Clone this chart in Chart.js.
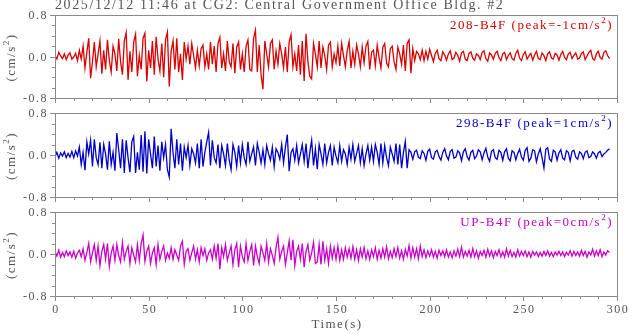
<!DOCTYPE html>
<html>
<head>
<meta charset="utf-8">
<script src="https://cdn.jsdelivr.net/npm/chart.js@4.4.0/dist/chart.umd.min.js"></script>
<style>
  body { margin: 0; background: #fff; }
  #wrap { position: relative; width: 629px; height: 334px; overflow: hidden; }
  canvas { position: absolute; left: 0; }
</style>
</head>
<body>
<div id="wrap">
  <canvas id="p1" width="629" height="112" style="top:0px"></canvas>
  <canvas id="p2" width="629" height="112" style="top:100px"></canvas>
  <canvas id="p3" width="629" height="136" style="top:198px"></canvas>
</div>
<script>
var titleText = "2025/12/12 11:46 at CG2: Central Government Office Bldg. #2";
var channelNames = ["208-B4F", "298-B4F", "UP-B4F"];
var peakValues = ["-1", "1", "0"];
var sampleStep = 1; // seconds between samples
var xTickLabels = [0, 50, 100, 150, 200, 250, 300];
var yTickLabels = [-0.8, 0.0, 0.8];

// acceleration (cm/s^2), one value per second
var ch208 = [
  0.02, -0.05, 0.08, 0.01, -0.04, 0.05, -0.06, 0.03, 0.07, -0.05,
  -0.01, 0.06, -0.08, 0.12, -0.05, 0.20, -0.22, 0.08, 0.35, -0.42,
  -0.10, 0.28, -0.20, 0.05, 0.30, -0.33, 0.12, -0.25, 0.32, -0.08,
  -0.30, 0.20, 0.05, -0.28, 0.34, -0.10, -0.35, 0.30, 0.46, -0.45,
  0.10, -0.30, 0.28, 0.43, -0.38, 0.02, -0.25, 0.35, 0.45, -0.48,
  0.12, -0.22, 0.30, -0.35, 0.38, -0.05, -0.28, 0.25, -0.40, 0.32,
  0.47, -0.58, 0.10, 0.30, -0.25, 0.35, -0.30, 0.05, -0.45, 0.28,
  -0.05, 0.20, -0.15, 0.25, 0.02, -0.22, 0.12, -0.18, 0.15, 0.22,
  -0.20, 0.05, -0.25, 0.28, -0.15, 0.20, -0.30, 0.25, 0.37, -0.22,
  0.05, -0.28, 0.30, -0.10, -0.20, 0.25, -0.32, 0.18, 0.28, -0.25,
  0.05, -0.30, 0.20, 0.32, -0.25, -0.28, 0.35, 0.51, -0.30, 0.22,
  -0.35, -0.63, 0.30, 0.05, -0.20, 0.25, 0.32, -0.25, 0.10, -0.15,
  0.25, 0.05, -0.22, 0.18, -0.30, 0.28, 0.42, -0.20, 0.05, -0.28,
  0.22, -0.35, 0.30, -0.47, 0.44, -0.10, -0.38, -0.43, 0.25, 0.05,
  -0.20, 0.30, -0.22, 0.18, 0.02, -0.25, 0.22, 0.28, -0.20, 0.05,
  -0.12, 0.20, -0.18, 0.25, 0.02, -0.20, 0.12, 0.29, -0.22, 0.10,
  -0.15, 0.22, 0.05, -0.20, 0.18, -0.12, 0.20, 0.29, -0.25, 0.08,
  0.12, -0.18, 0.22, -0.02, -0.22, 0.18, 0.25, -0.12, -0.20, 0.15,
  0.20, -0.10, -0.25, 0.18, 0.05, -0.15, 0.22, -0.28, 0.25, 0.32,
  -0.32, 0.15, -0.08, 0.10, 0.05, -0.06, 0.12, -0.08, 0.10, -0.05,
  0.14, 0.02, -0.10, 0.06, 0.12, -0.04, -0.08, 0.09, 0.03, -0.07,
  0.05, 0.11, -0.06, -0.03, 0.08, 0.02, -0.09, 0.07, 0.10, -0.05,
  -0.08, 0.06, 0.09, -0.03, -0.07, 0.05, 0.02, -0.06, 0.08, 0.11,
  -0.04, -0.09, 0.07, 0.03, -0.05, 0.06, 0.10, -0.02, -0.08, 0.05,
  0.08, -0.06, 0.02, 0.07, -0.04, -0.07, 0.06, 0.12, -0.03, -0.08,
  0.04, 0.09, -0.05, 0.01, 0.06, -0.07, 0.03, 0.10, -0.04, -0.06,
  0.07, 0.02, -0.08, 0.05, 0.09, -0.03, -0.05, 0.06, 0.03, -0.07,
  0.04, 0.10, -0.02, -0.06, 0.05, 0.08, -0.04, 0.02, 0.07, -0.05,
  -0.03, 0.06, 0.09, -0.06, 0.01, 0.08, 0.12, -0.04, -0.07, 0.05,
  0.10, -0.02, -0.05, 0.08, 0.11, 0.02, -0.04
];
var ch298 = [
  -0.03, 0.05, -0.06, 0.04, -0.02, 0.06, -0.05, 0.03, -0.04, 0.07,
  -0.05, 0.08, -0.02, 0.15, -0.18, 0.05, -0.29, 0.25, 0.02, 0.28,
  -0.22, 0.30, -0.05, -0.18, 0.24, -0.25, 0.20, 0.02, -0.28, 0.26,
  -0.18, 0.05, -0.30, 0.42, 0.10, -0.25, 0.30, -0.34, 0.28, -0.05,
  -0.33, 0.25, 0.35, -0.34, 0.05, -0.28, 0.38, -0.32, 0.45, -0.35,
  0.30, 0.02, -0.25, 0.35, -0.22, 0.18, -0.30, 0.25, -0.05, 0.20,
  -0.28, -0.42, 0.50, 0.05, -0.25, 0.30, -0.18, 0.22, -0.30, 0.15,
  -0.05, 0.18, -0.20, 0.12, 0.02, -0.15, 0.22, -0.25, 0.30, -0.22,
  0.05, 0.25, 0.43, -0.20, 0.28, -0.05, -0.15, 0.20, -0.25, 0.18,
  0.02, -0.20, 0.22, -0.10, -0.28, 0.20, 0.05, -0.22, 0.18, -0.15,
  0.20, -0.05, -0.18, 0.25, -0.12, 0.02, 0.15, -0.20, 0.22, 0.05,
  -0.15, 0.10, -0.18, 0.18, 0.02, -0.10, 0.15, -0.22, 0.12, 0.05,
  -0.08, 0.20, -0.15, 0.15, 0.39, -0.31, 0.05, 0.12, -0.10, 0.18,
  -0.15, 0.02, 0.20, -0.12, 0.22, -0.25, 0.05, 0.28, -0.20, 0.12,
  -0.27, 0.20, 0.02, -0.18, 0.22, -0.15, 0.05, 0.18, -0.20, 0.15,
  -0.02, -0.15, 0.18, -0.12, 0.10, 0.02, -0.18, 0.15, -0.08, 0.20,
  -0.12, 0.03, 0.18, -0.15, 0.12, -0.20, 0.02, 0.18, -0.10, 0.15,
  -0.12, 0.20, 0.05, -0.18, 0.22, -0.15, 0.18, -0.05, -0.20, 0.15,
  0.02, -0.12, 0.22, -0.18, 0.20, -0.25, 0.05, 0.26, -0.25, 0.10,
  0.05, -0.08, 0.06, 0.09, -0.04, -0.07, 0.08, 0.03, -0.10, 0.07,
  0.11, -0.05, -0.08, 0.06, 0.09, -0.03, -0.10, 0.05, 0.12, -0.02,
  -0.09, 0.07, 0.10, -0.06, -0.04, 0.08, 0.04, -0.11, 0.06, 0.12,
  -0.03, -0.10, 0.05, 0.09, -0.07, -0.02, 0.10, 0.06, -0.09, 0.04,
  0.13, -0.04, -0.12, 0.07, 0.10, -0.05, -0.08, 0.09, 0.05, -0.10,
  0.06, 0.12, -0.06, -0.11, 0.08, 0.05, -0.09, 0.03, 0.11, -0.04,
  -0.10, 0.09, 0.14, -0.12, -0.06, 0.10, 0.08, -0.13, 0.02, 0.12,
  -0.05, -0.25, 0.11, 0.14, -0.08, -0.12, 0.09, 0.06, -0.10, 0.04,
  0.10, -0.06, -0.09, 0.08, 0.05, -0.11, 0.07, 0.09, -0.04, -0.08,
  0.06, 0.03, -0.07, 0.05, 0.08, -0.05, -0.03, 0.06, 0.02, -0.06,
  0.04, 0.07, -0.03, 0.02, 0.05, 0.09, 0.12
];
var chUP = [
  0.05, -0.04, 0.07, -0.06, 0.03, -0.05, 0.06, -0.03, 0.04, -0.06,
  0.05, -0.08, 0.02, 0.07, -0.05, 0.10, -0.12, 0.03, 0.20, -0.15,
  0.02, 0.18, -0.12, 0.15, -0.22, 0.05, 0.18, -0.10, 0.20, -0.24,
  0.02, 0.15, -0.12, 0.18, -0.03, -0.15, 0.22, -0.10, 0.05, 0.15,
  -0.18, 0.12, -0.02, -0.15, 0.18, -0.12, 0.20, 0.36, -0.14, 0.05,
  0.15, -0.18, 0.02, 0.12, -0.20, 0.18, -0.10, 0.05, 0.15, -0.12,
  0.02, -0.08, 0.12, -0.10, 0.08, -0.02, -0.12, 0.15, 0.24, -0.20,
  0.05, 0.10, -0.12, 0.02, 0.15, -0.10, 0.08, -0.15, 0.12, -0.03,
  0.10, -0.12, 0.02, 0.08, -0.10, 0.15, -0.08, 0.20, -0.29, 0.12,
  -0.05, 0.18, -0.12, 0.02, 0.15, -0.20, 0.08, 0.20, -0.25, 0.15,
  -0.05, -0.15, 0.20, -0.12, 0.05, 0.18, -0.22, 0.15, -0.05, -0.18,
  0.15, 0.02, -0.12, 0.20, -0.15, 0.10, -0.02, -0.18, 0.12, 0.32,
  -0.10, 0.05, 0.15, -0.20, 0.02, 0.25, -0.12, 0.27, -0.22, 0.05,
  0.15, -0.10, 0.20, -0.25, 0.05, 0.18, -0.12, 0.02, 0.22, -0.18,
  -0.15, 0.18, -0.20, 0.24, -0.12, 0.10, -0.18, 0.15, -0.08, 0.12,
  -0.10, 0.15, -0.12, 0.08, -0.10, 0.12, -0.06, 0.10, -0.08, 0.14,
  -0.10, 0.08, -0.12, 0.10, -0.06, 0.12, -0.09, 0.06, -0.10, 0.08,
  -0.05, 0.12, -0.10, 0.07, -0.08, 0.10, -0.06, 0.14, -0.09, 0.05,
  -0.07, 0.10, -0.05, 0.12, -0.08, 0.06, -0.10, 0.09, -0.04, 0.16,
  -0.08, 0.12, -0.06, 0.10, -0.09, 0.15, -0.05, 0.08, -0.07, 0.06,
  -0.04, 0.08, -0.06, 0.05, -0.08, 0.07, -0.03, 0.06, -0.05, 0.08,
  -0.06, 0.04, -0.07, 0.06, -0.04, 0.09, -0.05, 0.13, -0.06, 0.05,
  -0.04, 0.07, -0.06, 0.10, -0.05, 0.06, -0.08, 0.05, -0.03, 0.07,
  -0.06, 0.09, -0.04, 0.06, -0.07, 0.05, -0.03, 0.08, -0.05, 0.04,
  -0.06, 0.10, -0.04, 0.07, -0.05, 0.03, -0.06, 0.08, -0.04, 0.05,
  -0.03, 0.06, -0.05, 0.04, -0.06, 0.05, -0.02, 0.04, -0.05, 0.03,
  -0.04, 0.05, -0.03, 0.06, -0.04, 0.03, -0.05, 0.04, -0.02, 0.05,
  -0.03, 0.04, -0.05, 0.03, -0.02, 0.06, -0.04, 0.05, -0.03, 0.04,
  -0.04, 0.07, -0.03, 0.05, -0.06, 0.04, -0.02, 0.09, -0.04, 0.06,
  -0.03, 0.08, -0.05, 0.04, -0.02, 0.06, 0.03
];

var FONT = "'Liberation Serif', 'Times New Roman', serif";
var TEXT = "#555555";
var FRAME = "#8a8a8a";

function near(a, b) { return Math.abs(a - b) < 1e-6; }

// draw "main" + superscript 2 + ")" with its right or left edge at x
function supText(ctx, main, x, base, size, alignRight) {
  ctx.font = size + "px " + FONT;
  var wMain = ctx.measureText(main).width;
  var wEnd = ctx.measureText(")").width;
  ctx.font = Math.round(size * 0.7) + "px " + FONT;
  var wSup = ctx.measureText("2").width;
  var x0 = alignRight ? x - (wMain + wSup + wEnd) : x;
  ctx.textAlign = 'left';
  ctx.font = size + "px " + FONT;
  ctx.fillText(main, x0, base);
  ctx.fillText(")", x0 + wMain + wSup, base);
  ctx.font = Math.round(size * 0.7) + "px " + FONT;
  ctx.fillText("2", x0 + wMain, base - size * 0.45);
  return wMain + wSup + wEnd;
}

// frame, outward tick marks, tick labels, axis titles, channel label
var panelDecor = {
  id: 'panelDecor',
  afterDraw: function(chart) {
    var ctx = chart.ctx;
    var a = chart.chartArea;
    var xs = chart.scales.x, ys = chart.scales.y;
    var opt = chart.options.plugins.panelDecor;
    ctx.save();
    ctx.strokeStyle = FRAME;
    ctx.lineWidth = 1;
    ctx.strokeRect(Math.round(a.left) + 0.5, Math.round(a.top) + 0.5,
      Math.round(a.right - a.left), Math.round(a.bottom - a.top));
    ctx.beginPath();
    xs.ticks.forEach(function(t) {
      var px = Math.round(xs.getPixelForValue(t.value)) + 0.5;
      var len = (t.value % 50 === 0) ? 5 : 3;
      ctx.moveTo(px, a.bottom);
      ctx.lineTo(px, a.bottom + len);
    });
    ys.ticks.forEach(function(t) {
      var py = Math.round(ys.getPixelForValue(t.value)) + 0.5;
      var major = yTickLabels.some(function(v) { return near(v, t.value); });
      ctx.moveTo(a.left, py);
      ctx.lineTo(a.left - (major ? 5 : 3), py);
    });
    ctx.stroke();

    ctx.fillStyle = TEXT;
    ctx.textBaseline = 'alphabetic';
    ctx.letterSpacing = '1.5px';

    // y tick labels
    ctx.font = "12px " + FONT;
    ctx.textAlign = 'right';
    yTickLabels.forEach(function(v) {
      ctx.fillText(v.toFixed(1), a.left - 7, ys.getPixelForValue(v) + 4);
    });

    // x tick labels and title (bottom panel only)
    if (opt.lastPanel) {
      ctx.textAlign = 'center';
      xTickLabels.forEach(function(v) {
        ctx.fillText(String(v), xs.getPixelForValue(v) + 1, a.bottom + 17);
      });
      ctx.font = "13px " + FONT;
      ctx.fillText("Time(s)", (a.left + a.right) / 2 + 1, a.bottom + 32);
    }

    // y axis title, rotated
    ctx.save();
    ctx.translate(15, (a.top + a.bottom) / 2);
    ctx.rotate(-Math.PI / 2);
    ctx.font = "13px " + FONT;
    var wy = ctx.measureText("(cm/s").width + ctx.measureText(")").width + 8;
    supText(ctx, "(cm/s", -wy / 2, 0, 13, false);
    ctx.restore();

    // station title above the first panel
    if (opt.title) {
      ctx.font = "14px " + FONT;
      ctx.letterSpacing = '1.6px';
      ctx.textAlign = 'left';
      ctx.fillText(opt.title, a.left, 9);
    }

    // channel label, top right inside the panel
    ctx.fillStyle = opt.color;
    ctx.letterSpacing = '1.5px';
    supText(ctx, opt.name + " (peak=" + opt.peak + "cm/s", a.right - 4, a.top + 14, 13, true);
    ctx.restore();
  }
};

function makePanel(id, values, color, idx, topPad, xHeight, lastPanel) {
  var pts = values.map(function(v, i) { return { x: i * sampleStep, y: v }; });
  return new Chart(document.getElementById(id), {
    type: 'line',
    data: {
      datasets: [{
        data: pts,
        borderColor: color,
        borderWidth: 1.3,
        pointRadius: 0,
        tension: 0,
        fill: false
      }]
    },
    options: {
      responsive: false,
      animation: false,
      events: [],
      layout: { padding: { top: topPad, right: 12, left: 0, bottom: 0 } },
      plugins: {
        legend: { display: false },
        tooltip: { enabled: false },
        panelDecor: {
          name: channelNames[idx],
          peak: peakValues[idx],
          color: color,
          lastPanel: lastPanel,
          title: idx === 0 ? titleText : null
        }
      },
      scales: {
        x: {
          type: 'linear',
          min: 0,
          max: 300,
          grid: { display: false, drawTicks: false },
          border: { display: false },
          ticks: { stepSize: 10, autoSkip: false, display: false },
          afterFit: function(s) {
            s.height = xHeight;
            s.paddingLeft = 0;
            s.paddingRight = 0;
          }
        },
        y: {
          min: -0.8,
          max: 0.8,
          grid: { display: false, drawTicks: false },
          border: { display: false },
          ticks: { stepSize: 0.2, autoSkip: false, display: false },
          afterFit: function(s) {
            s.width = 55;
            s.paddingTop = 0;
            s.paddingBottom = 0;
          }
        }
      }
    },
    plugins: [panelDecor]
  });
}

makePanel('p1', ch208, '#d80000', 0, 15, 14, false);
makePanel('p2', ch298, '#0000c8', 1, 13, 15, false);
makePanel('p3', chUP, '#c800c8', 2, 14, 38, true);
</script>
</body>
</html>
